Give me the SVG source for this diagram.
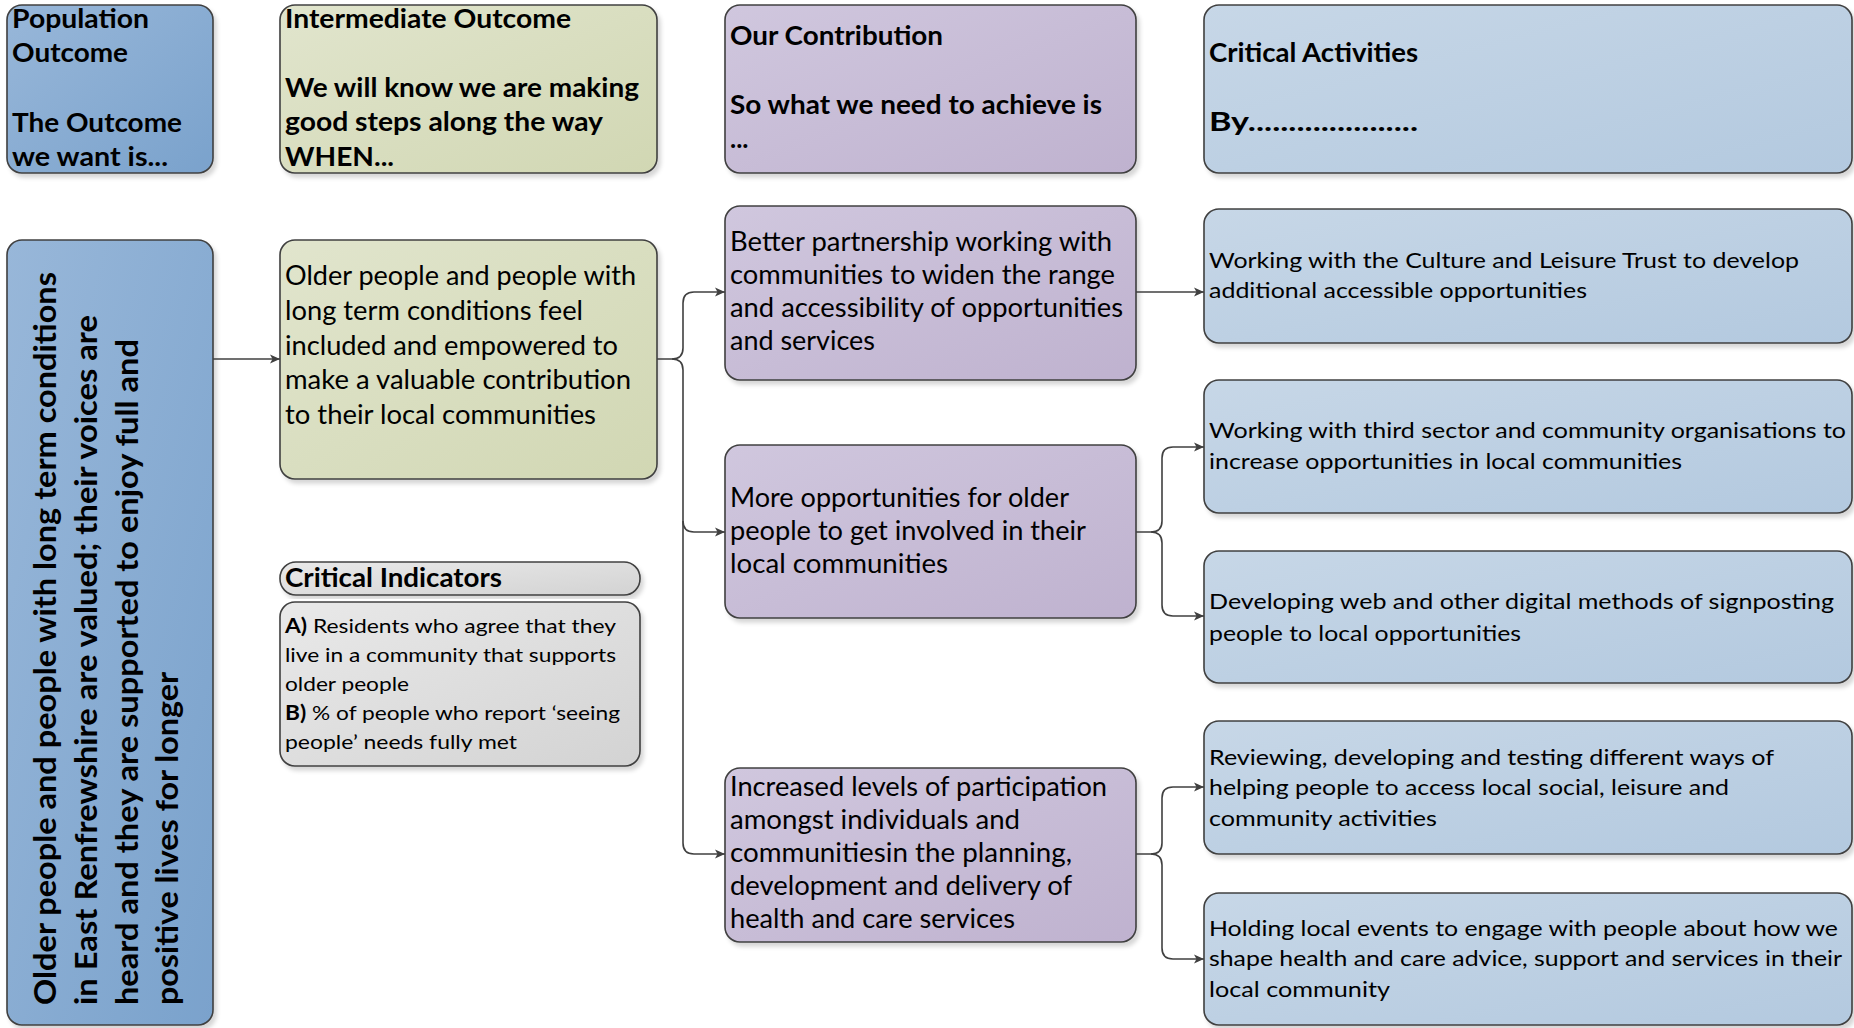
<svg xmlns="http://www.w3.org/2000/svg" width="1854" height="1028" viewBox="0 0 1854 1028">
<defs>
<linearGradient id="gBlue" x1="0" y1="0" x2="1" y2="1"><stop offset="0" stop-color="#98b7d9"/><stop offset="1" stop-color="#7aa2cc"/></linearGradient>
<linearGradient id="gOlive" x1="0" y1="0" x2="1" y2="1"><stop offset="0" stop-color="#e1e5cd"/><stop offset="1" stop-color="#d1d7b3"/></linearGradient>
<linearGradient id="gLav" x1="0" y1="0" x2="1" y2="1"><stop offset="0" stop-color="#d0c7de"/><stop offset="1" stop-color="#bfb2cf"/></linearGradient>
<linearGradient id="gLight" x1="0" y1="0" x2="1" y2="1"><stop offset="0" stop-color="#c7d7e7"/><stop offset="1" stop-color="#b3c9df"/></linearGradient>
<linearGradient id="gGray" x1="0" y1="0" x2="1" y2="1"><stop offset="0" stop-color="#e9e9e9"/><stop offset="1" stop-color="#d3d3d3"/></linearGradient>
<filter id="sh" x="-5%" y="-5%" width="115%" height="115%"><feDropShadow dx="3" dy="4" stdDeviation="2" flood-color="#000" flood-opacity="0.16"/></filter>
<marker id="arr" viewBox="0 0 10 10" refX="10" refY="5" markerWidth="10" markerHeight="10" markerUnits="userSpaceOnUse" orient="auto"><path d="M0,0.5 L10,5 L0,9.5 L2.5,5 z" fill="#404040"/></marker>
</defs>
<style>
.box{stroke:#404040;stroke-width:1.6;filter:url(#sh)}
.blue{fill:url(#gBlue)}
.olive{fill:url(#gOlive)}
.lav{fill:url(#gLav)}
.light{fill:url(#gLight)}
.gray{fill:url(#gGray)}
text{font-family:Lato,"Liberation Sans",sans-serif;fill:#000}
.hd{font-size:26px;font-weight:bold}
.bd{font-size:26px}
.ac{font-size:22px}
.ind{font-size:20px}
.rot{font-size:31px;font-weight:bold}
.con{fill:none;stroke:#404040;stroke-width:1.6}
</style>
<rect width="1854" height="1028" fill="#ffffff"/>

<g id="hdr-population">
<rect class="box blue" x="7" y="5" width="206" height="168" rx="15"/>
<text class="hd" x="12" y="28" textLength="137" lengthAdjust="spacingAndGlyphs">Population</text>
<text class="hd" x="12" y="62" textLength="116" lengthAdjust="spacingAndGlyphs">Outcome</text>
<text class="hd" x="12" y="132" textLength="170" lengthAdjust="spacingAndGlyphs">The Outcome</text>
<text class="hd" x="12" y="166" textLength="156" lengthAdjust="spacingAndGlyphs">we want is...</text>
</g>

<g id="hdr-intermediate">
<rect class="box olive" x="280" y="5" width="377" height="168" rx="15"/>
<text class="hd" x="285" y="28" textLength="286" lengthAdjust="spacingAndGlyphs">Intermediate Outcome</text>
<text class="hd" x="285" y="97" textLength="354" lengthAdjust="spacingAndGlyphs">We will know we are making</text>
<text class="hd" x="285" y="131" textLength="318" lengthAdjust="spacingAndGlyphs">good steps along the way</text>
<text class="hd" x="285" y="166" textLength="109" lengthAdjust="spacingAndGlyphs">WHEN...</text>
</g>

<g id="hdr-contribution">
<rect class="box lav" x="725" y="5" width="411" height="168" rx="15"/>
<text class="hd" x="730" y="45" textLength="213" lengthAdjust="spacingAndGlyphs">Our Contribution</text>
<text class="hd" x="730" y="114" textLength="372" lengthAdjust="spacingAndGlyphs">So what we need to achieve is</text>
<text class="hd" x="730" y="148">...</text>
</g>

<g id="hdr-activities">
<rect class="box light" x="1204" y="5" width="648" height="168" rx="15"/>
<text class="hd" x="1209" y="62" textLength="209" lengthAdjust="spacingAndGlyphs">Critical Activities</text>
<text class="hd" x="1209" y="131" textLength="209" lengthAdjust="spacingAndGlyphs">By.....................</text>
</g>

<g id="population-outcome">
<rect class="box blue" x="7" y="240" width="206" height="785" rx="15"/>
<text class="rot" transform="translate(56,1005) rotate(-90)" textLength="733" lengthAdjust="spacingAndGlyphs">Older people and people with long term conditions</text>
<text class="rot" transform="translate(97,1005) rotate(-90)" textLength="690" lengthAdjust="spacingAndGlyphs">in East Renfrewshire are valued; their voices are</text>
<text class="rot" transform="translate(138,1005) rotate(-90)" textLength="666" lengthAdjust="spacingAndGlyphs">heard and they are supported to enjoy full and</text>
<text class="rot" transform="translate(178,1005) rotate(-90)" textLength="333" lengthAdjust="spacingAndGlyphs">positive lives for longer</text>
</g>

<g id="intermediate-outcome">
<rect class="box olive" x="280" y="240" width="377" height="239" rx="15"/>
<text class="bd" x="285" y="285" textLength="351" lengthAdjust="spacingAndGlyphs">Older people and people with</text>
<text class="bd" x="285" y="320" textLength="298" lengthAdjust="spacingAndGlyphs">long term conditions feel</text>
<text class="bd" x="285" y="355" textLength="333" lengthAdjust="spacingAndGlyphs">included and empowered to</text>
<text class="bd" x="285" y="389" textLength="346" lengthAdjust="spacingAndGlyphs">make a valuable contribution</text>
<text class="bd" x="285" y="424" textLength="311" lengthAdjust="spacingAndGlyphs">to their local communities</text>
</g>

<g id="critical-indicators-header">
<rect class="box gray" x="280" y="562" width="360" height="33" rx="16"/>
<text class="hd" x="285" y="587" textLength="217" lengthAdjust="spacingAndGlyphs">Critical Indicators</text>
</g>

<g id="critical-indicators">
<rect class="box gray" x="280" y="602" width="360" height="164" rx="15"/>
<text class="ind" x="285" y="633" textLength="331" lengthAdjust="spacingAndGlyphs"><tspan font-weight="bold">A)</tspan> Residents who agree that they</text>
<text class="ind" x="285" y="662" textLength="331" lengthAdjust="spacingAndGlyphs">live in a community that supports</text>
<text class="ind" x="285" y="691" textLength="124" lengthAdjust="spacingAndGlyphs">older people</text>
<text class="ind" x="285" y="720" textLength="335" lengthAdjust="spacingAndGlyphs"><tspan font-weight="bold">B)</tspan> % of people who report ‘seeing</text>
<text class="ind" x="285" y="749" textLength="232" lengthAdjust="spacingAndGlyphs">people’ needs fully met</text>
</g>

<g id="contribution-1">
<rect class="box lav" x="725" y="206" width="411" height="174" rx="15"/>
<text class="bd" x="730" y="251" textLength="382" lengthAdjust="spacingAndGlyphs">Better partnership working with</text>
<text class="bd" x="730" y="284" textLength="385" lengthAdjust="spacingAndGlyphs">communities to widen the range</text>
<text class="bd" x="730" y="317" textLength="393" lengthAdjust="spacingAndGlyphs">and accessibility of opportunities</text>
<text class="bd" x="730" y="350" textLength="145" lengthAdjust="spacingAndGlyphs">and services</text>
</g>

<g id="contribution-2">
<rect class="box lav" x="725" y="445" width="411" height="173" rx="15"/>
<text class="bd" x="730" y="507" textLength="339" lengthAdjust="spacingAndGlyphs">More opportunities for older</text>
<text class="bd" x="730" y="540" textLength="356" lengthAdjust="spacingAndGlyphs">people to get involved in their</text>
<text class="bd" x="730" y="573" textLength="218" lengthAdjust="spacingAndGlyphs">local communities</text>
</g>

<g id="contribution-3">
<rect class="box lav" x="725" y="768" width="411" height="174" rx="15"/>
<text class="bd" x="730" y="796" textLength="377" lengthAdjust="spacingAndGlyphs">Increased levels of participation</text>
<text class="bd" x="730" y="829" textLength="290" lengthAdjust="spacingAndGlyphs">amongst individuals and</text>
<text class="bd" x="730" y="862" textLength="342" lengthAdjust="spacingAndGlyphs">communitiesin the planning,</text>
<text class="bd" x="730" y="895" textLength="342" lengthAdjust="spacingAndGlyphs">development and delivery of</text>
<text class="bd" x="730" y="928" textLength="285" lengthAdjust="spacingAndGlyphs">health and care services</text>
</g>

<g id="activity-1">
<rect class="box light" x="1204" y="209" width="648" height="134" rx="15"/>
<text class="ac" x="1209" y="268" textLength="590" lengthAdjust="spacingAndGlyphs">Working with the Culture and Leisure Trust to develop</text>
<text class="ac" x="1209" y="298" textLength="378" lengthAdjust="spacingAndGlyphs">additional accessible opportunities</text>
</g>

<g id="activity-2">
<rect class="box light" x="1204" y="380" width="648" height="133" rx="15"/>
<text class="ac" x="1209" y="438" textLength="637" lengthAdjust="spacingAndGlyphs">Working with third sector and community organisations to</text>
<text class="ac" x="1209" y="469" textLength="473" lengthAdjust="spacingAndGlyphs">increase opportunities in local communities</text>
</g>

<g id="activity-3">
<rect class="box light" x="1204" y="551" width="648" height="132" rx="15"/>
<text class="ac" x="1209" y="609" textLength="625" lengthAdjust="spacingAndGlyphs">Developing web and other digital methods of signposting</text>
<text class="ac" x="1209" y="641" textLength="312" lengthAdjust="spacingAndGlyphs">people to local opportunities</text>
</g>

<g id="activity-4">
<rect class="box light" x="1204" y="721" width="648" height="133" rx="15"/>
<text class="ac" x="1209" y="765" textLength="565" lengthAdjust="spacingAndGlyphs">Reviewing, developing and testing different ways of</text>
<text class="ac" x="1209" y="795" textLength="520" lengthAdjust="spacingAndGlyphs">helping people to access local social, leisure and</text>
<text class="ac" x="1209" y="826" textLength="228" lengthAdjust="spacingAndGlyphs">community activities</text>
</g>

<g id="activity-5">
<rect class="box light" x="1204" y="893" width="648" height="132" rx="15"/>
<text class="ac" x="1209" y="936" textLength="629" lengthAdjust="spacingAndGlyphs">Holding local events to engage with people about how we</text>
<text class="ac" x="1209" y="966" textLength="633" lengthAdjust="spacingAndGlyphs">shape health and care advice, support and services in their</text>
<text class="ac" x="1209" y="997" textLength="181" lengthAdjust="spacingAndGlyphs">local community</text>
</g>

<g id="connectors">
<path class="con" marker-end="url(#arr)" d="M213,359 H280"/>
<path class="con" marker-end="url(#arr)" d="M657,359 H672 Q683,359 683,348 V303 Q683,292 694,292 H725"/>
<path class="con" marker-end="url(#arr)" d="M672,359 Q683,359 683,370 V521 Q683,532 694,532 H725"/>
<path class="con" marker-end="url(#arr)" d="M683,521 V843 Q683,854 694,854 H725"/>
<path class="con" marker-end="url(#arr)" d="M1136,292 H1204"/>
<path class="con" marker-end="url(#arr)" d="M1136,532 H1151 Q1162,532 1162,521 V458 Q1162,447 1173,447 H1204"/>
<path class="con" marker-end="url(#arr)" d="M1151,532 Q1162,532 1162,543 V605 Q1162,616 1173,616 H1204"/>
<path class="con" marker-end="url(#arr)" d="M1136,854 H1151 Q1162,854 1162,843 V798 Q1162,787 1173,787 H1204"/>
<path class="con" marker-end="url(#arr)" d="M1151,854 Q1162,854 1162,865 V948 Q1162,959 1173,959 H1204"/>
</g>
</svg>
